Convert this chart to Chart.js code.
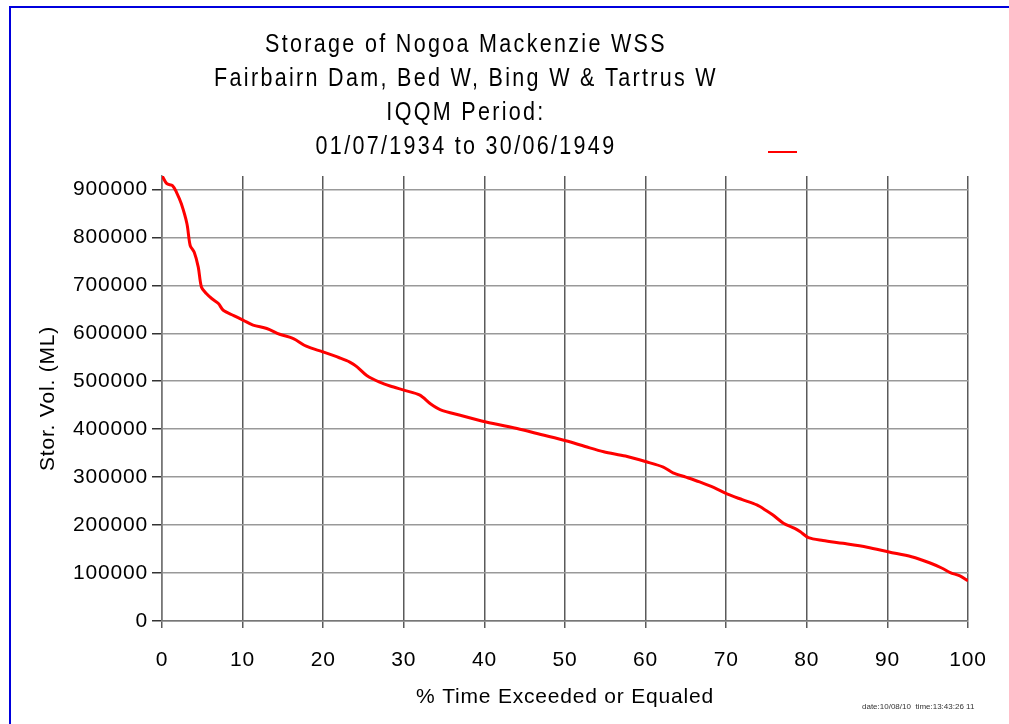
<!DOCTYPE html>
<html>
<head>
<meta charset="utf-8">
<script src="https://cdn.jsdelivr.net/npm/chart.js@4.4.1/dist/chart.umd.min.js"></script>
<style>
  html, body { margin: 0; padding: 0; background: #fff; overflow: hidden; }
  #wrap { position: relative; width: 1009px; height: 724px; }
  #frame { position: absolute; left: 9px; top: 6px; width: 1100px; height: 800px;
           border-left: 2px solid #0000dd; border-top: 2px solid #0000dd; box-sizing: border-box; }
  canvas { position: absolute; left: 0; top: 0; }
</style>
</head>
<body>
<div id="wrap">
  <div id="frame"></div>
  <canvas id="myChart" width="1009" height="724"></canvas>
</div>
<script>
// storage duration curve
const pctExceeded = [0, 0.6, 1.3, 1.8, 2.4, 3.1, 3.5, 4.0, 4.5, 4.9, 5.5, 6.2, 7.0, 7.6, 8.9, 10.1, 11.3, 13.0, 14.6,
  16.3, 17.9, 20.0, 22.0, 23.3, 24.2, 25.4, 27.0, 28.3, 30.1, 32.0, 33.3, 34.5, 37.0, 40.2, 44.4, 47.0, 50.1, 52.5,
  54.8, 57.5, 60.1, 62.2, 63.4, 65.0, 66.7, 68.5, 70.1, 72.0, 73.8, 75.0, 75.8, 77.1, 78.5, 79.2, 80.2, 82.0, 84.5,
  87.5, 90.2, 93.0, 95.3, 96.8, 97.8, 99.0, 100];
const storageML = [929000, 912000, 908000, 894000, 870000, 828000, 783000, 769000, 738000, 696000, 683000, 672000, 662000, 648000, 637000, 627000, 617000, 610000, 598000,
  589000, 573000, 561000, 549000, 540000, 530000, 512000, 498000, 490000, 481000, 471000, 453000, 441000, 429000, 415000, 400000, 389000, 376000, 364000,
  353000, 344000, 332000, 321000, 309000, 300000, 290000, 278000, 265000, 253000, 242000, 230000, 221000, 204000, 193000, 186000, 174000, 168000, 162000,
  154000, 144000, 134000, 121000, 110000, 101000, 94000, 84000];
const xTicks = [0, 10, 20, 30, 40, 50, 60, 70, 80, 90, 100];
const yTicks = [0, 100000, 200000, 300000, 400000, 500000, 600000, 700000, 800000, 900000];
const titleLines = ['Storage of Nogoa Mackenzie WSS', 'Fairbairn Dam, Bed W, Bing W & Tartrus W', 'IQQM Period:', '01/07/1934 to 30/06/1949'];
const stamp = 'date:10/08/10  time:13:43:26 11';

const font = '"Liberation Sans", Arial, sans-serif';

const spacing = {
  id: 'spacing',
  beforeDraw(chart) { chart.ctx.letterSpacing = '0.8px'; }
};

const extras = {
  id: 'extras',
  afterDraw(chart) {
    const c = chart.ctx;
    c.save();
    c.fillStyle = '#000';
    c.textAlign = 'center';
    c.textBaseline = 'middle';
    c.letterSpacing = '2.7px';
    c.font = '25px ' + font;
    titleLines.forEach((t, i) => {
      c.save();
      c.translate(466, 45 + i * 34);
      c.scale(0.86, 1);
      c.fillText(t, 0, 0);
      c.restore();
    });
    // legend swatch (no label)
    c.strokeStyle = chart.data.datasets[0].borderColor;
    c.lineWidth = 2;
    c.beginPath();
    c.moveTo(768, 152);
    c.lineTo(797, 152);
    c.stroke();
    c.letterSpacing = '0px';
    c.font = '8px ' + font;
    c.fillStyle = '#333';
    c.textAlign = 'left';
    c.fillText(stamp, 862, 707);
    c.restore();
  }
};

const ctx = document.getElementById('myChart');

new Chart(ctx, {
  type: 'scatter',
  data: {
    datasets: [{
      label: 'Storage',
      data: pctExceeded.map((x, i) => ({ x: x, y: storageML[i] })),
      showLine: true,
      borderColor: '#ff0000',
      borderWidth: 3,
      pointRadius: 0,
      tension: 0.3,
      fill: false
    }]
  },
  options: {
    responsive: false,
    animation: false,
    layout: { padding: { top: 176, right: 41, left: 36, bottom: 14 } },
    plugins: {
      legend: { display: false },
      tooltip: { enabled: false }
    },
    scales: {
      x: {
        type: 'linear',
        min: 0, max: 100,
        afterBuildTicks: s => { s.ticks = xTicks.map(v => ({ value: v })); },
        afterFit: s => { s.height = 89; },
        grid: { color: '#5a5a5a', tickColor: '#5a5a5a', tickLength: 7, lineWidth: 1.5 },
        border: { color: '#777', width: 1.5 },
        ticks: { color: '#000', font: { size: 21, family: font }, padding: 20, maxRotation: 0,
                 callback: v => String(v) },
        title: { display: true, text: '% Time Exceeded or Equaled', color: '#000',
                 font: { size: 21, family: font }, padding: { top: 0, bottom: 0 } }
      },
      y: {
        min: 0, max: 928000,
        afterBuildTicks: s => { s.ticks = yTicks.map(v => ({ value: v })); },
        afterFit: s => { s.width = 126; },
        grid: { color: '#999', tickColor: '#333', tickLength: 10, lineWidth: 1.5 },
        border: { color: '#777', width: 1.5 },
        ticks: { color: '#000', font: { size: 21, family: font }, padding: 4,
                 callback: v => String(v) },
        title: { display: true, text: 'Stor. Vol. (ML)', color: '#000',
                 font: { size: 21, family: font }, padding: { top: 0, bottom: 0 } }
      }
    }
  },
  plugins: [spacing, extras]
});
</script>
</body>
</html>
